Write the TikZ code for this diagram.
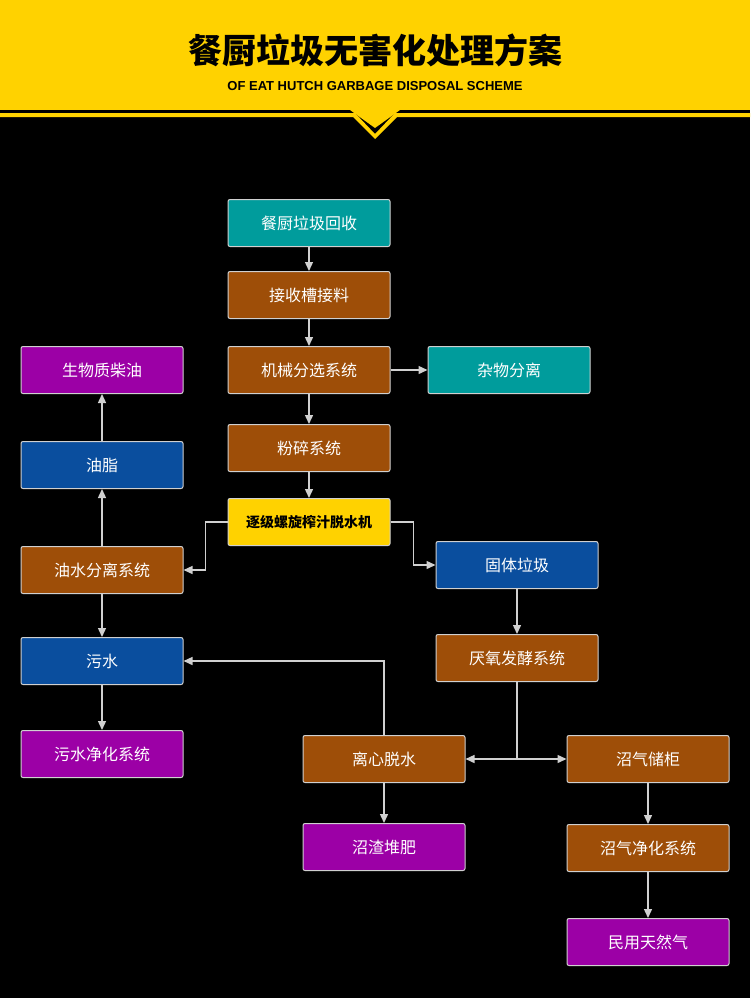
\documentclass[tikz,border=0pt]{standalone}
\usepackage{fontspec}
\setmainfont{Liberation Sans}
\newfontfamily\cjk{Noto Sans CJK SC}
\usetikzlibrary{arrows.meta}
\definecolor{cteal}{HTML}{009C9C}
\definecolor{cbrown}{HTML}{9E4E08}
\definecolor{cblue}{HTML}{0A4E9E}
\definecolor{cpurple}{HTML}{9C00A6}
\definecolor{cyel}{HTML}{FFD200}
\definecolor{cline}{HTML}{D0D0D0}
\begin{document}
\begin{tikzpicture}[x=1pt,y=-1pt,
 bx/.style={draw=cline,line width=1pt,rounded corners=2pt,minimum width=162pt,minimum height=47pt,text=white,font=\cjk\fontsize{16}{18}\selectfont,inner sep=0pt},
 teal/.style={bx,fill=cteal}, brown/.style={bx,fill=cbrown}, blue/.style={bx,fill=cblue}, purp/.style={bx,fill=cpurple},
 ar/.style={draw=cline,line width=1.4pt,-{Triangle[length=9pt,width=8pt]}}]
\fill[black] (0,0) rectangle (750,998);
\fill[cyel] (0,0) rectangle (750,110);
\fill[cyel] (0,113) -- (355,113) -- (375,134) -- (395,113) -- (750,113) -- (750,117) -- (397,117) -- (375,139) -- (353,117) -- (0,117) -- cycle;
\fill[cyel] (350,110) -- (375,128) -- (400,110) -- cycle;
\node (t) at (375,50) {\cjk\bfseries\fontsize{34}{38}\selectfont 餐厨垃圾无害化处理方案};
\node (s) at (375,86) {\bfseries\fontsize{13}{15}\selectfont OF EAT HUTCH GARBAGE DISPOSAL SCHEME};
\node[teal] (a) at (309,223) {餐厨垃圾回收};
\node[brown] (b) at (309,295) {接收槽接料};
\node[brown] (c) at (309,370) {机械分选系统};
\node[teal] (d) at (509,370) {杂物分离};
\node[brown] (e) at (309,448) {粉碎系统};
\node[bx,fill=cyel,text=black,font=\cjk\bfseries\fontsize{14}{16}\selectfont] (f) at (309,522) {逐级螺旋榨汁脱水机};
\node[purp] (g) at (102,370) {生物质柴油};
\node[blue] (h) at (102,465) {油脂};
\node[brown] (i) at (102,570) {油水分离系统};
\node[blue] (j) at (102,661) {污水};
\node[purp] (k) at (102,754) {污水净化系统};
\node[blue] (l) at (517,565) {固体垃圾};
\node[brown] (m) at (517,658) {厌氧发酵系统};
\node[brown] (n) at (384,759) {离心脱水};
\node[brown] (o) at (648,759) {沼气储柜};
\node[purp] (p) at (384,847) {沼渣堆肥};
\node[brown] (q) at (648,848) {沼气净化系统};
\node[purp] (r) at (648,942) {民用天然气};
\coordinate (mj) at (517,759);
\draw[ar] (a) -- (b);
\draw[ar] (b) -- (c);
\draw[ar] (c) -- (d);
\draw[ar] (c) -- (e);
\draw[ar] (e) -- (f);
\draw[ar] (f.west) -| ++(-22,48) -- (i.east);
\draw[ar] (f.east) -| ++(23,43) -- (l.west);
\draw[ar] (i) -- (h);
\draw[ar] (h) -- (g);
\draw[ar] (i) -- (j);
\draw[ar] (j) -- (k);
\draw[ar] (l) -- (m);
\draw[draw=cline,line width=1.4pt] (m) -- (mj);
\draw[ar] (mj) -- (n);
\draw[ar] (mj) -- (o);
\draw[ar] (n.north) |- (j.east);
\draw[ar] (n) -- (p);
\draw[ar] (o) -- (q);
\draw[ar] (q) -- (r);
\end{tikzpicture}
\end{document}
